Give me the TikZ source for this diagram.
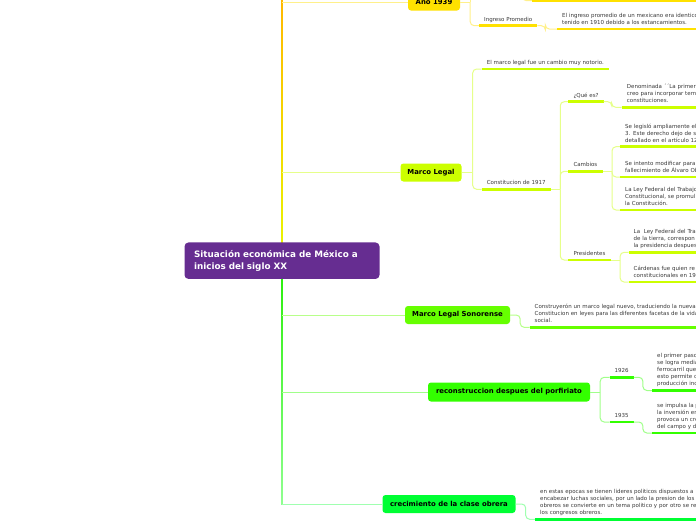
\documentclass[tikz,border=0pt]{standalone}
\usepackage{fontspec}
\setmainfont{DejaVu Sans}
\definecolor{txt}{HTML}{3A3A3A}
\definecolor{rootc}{HTML}{662D91}
\definecolor{cya}{HTML}{FFE100}
\definecolor{lya}{HTML}{FFF08A}
\definecolor{cml}{HTML}{CCFF00}
\definecolor{lml}{HTML}{E6FF8A}
\definecolor{cmls}{HTML}{66FF00}
\definecolor{lmls}{HTML}{B8FF8A}
\definecolor{crec}{HTML}{33FF00}
\definecolor{lrec}{HTML}{A0FF8A}
\definecolor{ccre}{HTML}{00FF33}
\definecolor{lcre}{HTML}{A0FFB0}
\definecolor{trA}{HTML}{FFB800}
\definecolor{trB}{HTML}{E8F500}
\definecolor{trC}{HTML}{22EE00}
\definecolor{trD}{HTML}{90FF90}
\begin{document}
\begin{tikzpicture}[x=1pt,y=-1pt,
  leaf/.style={anchor=south west, inner xsep=5pt, inner ysep=2.4pt, align=left,
    font=\fontsize{5.5}{7}\selectfont, text=txt, execute at end node=\strut},
  topic/.style={rounded corners=3pt, font=\fontsize{6.9}{8}\selectfont\bfseries,
    text=black, minimum height=18pt, inner sep=0pt},
  conn/.style={line width=1pt, rounded corners=4pt},
  ul/.style={line width=2.6pt}
]
\useasboundingbox (0,0) rectangle (696,520);
\clip (0,0) rectangle (696,520);
\fill[white] (0,0) rectangle (696,520);

% trunk
\shade[top color=trA, bottom color=trB] (281.1,-2) rectangle (282.9,255);
\shade[top color=trC, bottom color=trD] (281.1,255) rectangle (282.9,504.5);
\coordinate (t1) at (282,2);
\coordinate (t2) at (282,172.5);
\coordinate (t3) at (282,315);
\coordinate (t4) at (282,392);
\coordinate (t5) at (282,504);

% main topics
\node[topic, fill=cya, minimum width=52pt, minimum height=17pt] (a1939) at (434,2) {Año 1939};
\node[topic, fill=cml, minimum width=61pt] (ml) at (431,172.5) {Marco Legal};
\node[topic, fill=cmls, minimum width=105pt] (mls) at (457.5,315) {Marco Legal Sonorense};
\node[topic, fill=crec, minimum width=162pt, minimum height=19pt] (rec) at (509,392) {reconstruccion despues del porfiriato};
\node[topic, fill=ccre, minimum width=133pt] (cre) at (449,504) {crecimiento de la clase obrera};

\draw[conn, lya] (t1) -- (a1939.west);
\draw[conn, lml] (t2) -- (ml.west);
\draw[conn, lmls] (t3) -- (mls.west);
\draw[conn, lrec] (t4) -- (rec.west);
\draw[conn, lcre] (t5) -- (cre.west);

% root
\node[rounded corners=4pt, fill=rootc, text=white, minimum width=195pt, minimum height=36.5pt,
  text width=176pt, inner xsep=9.5pt, inner ysep=0pt, align=left,
  font=\fontsize{8.8}{11.6}\selectfont\bfseries] (root) at (282,260.7)
  {Situación económica de México a\\inicios del siglo XX};

% ---- Año 1939
\path (a1939.east) ++(10,0) coordinate (j1939);
\draw[conn, lya] (a1939.east) -- (j1939);
\draw[conn, lya] (j1939) -- ++(0,-12);
\node[leaf] (ip) at (479,25.7) {Ingreso Promedio};
\draw[conn, lya] (j1939) |- (ip.south west);
\draw[ul, cya] (ip.south west) -- (ip.south east);
\node[leaf, text width=250pt] (ipl) at (557,29) {El ingreso promedio de un mexicano era identico\\tenido en 1910 debido a los estancamientos.};
\draw[conn, lya] (ip.south east) -- ++(8,0) |- (ipl.south west);
\draw[ul, cya] (ipl.south west) -- (ipl.south east);
\coordinate (topsrc) at (514,-9);
\coordinate (topl) at (532,0.5);
\draw[conn, lya] (topsrc) -- ++(8,0) |- (topl);
\draw[ul, cya] (topl) -- ++(200,0);

% ---- Marco Legal
\path (ml.east) ++(11,0) coordinate (jml);
\draw[conn, lml] (ml.east) -- (jml);
\node[leaf] (mlnote) at (481.7,69) {El marco legal fue un cambio muy notorio.};
\node[leaf] (c1917) at (481.7,189.3) {Constitucion de 1917};
\draw[conn, lml] (jml) |- (mlnote.south west);
\draw[conn, lml] (jml) |- (c1917.south west);
\draw[ul, cml] (mlnote.south west) -- (mlnote.south east);
\draw[ul, cml] (c1917.south west) -- (c1917.south east);

\path (c1917.south east) ++(9.5,0) coordinate (jc);
\draw[conn, lml] (c1917.south east) -- (jc);
\node[leaf] (que) at (568.3,101.7) {¿Qué es?};
\node[leaf] (camb) at (568.3,171.3) {Cambios};
\node[leaf] (pres) at (568.3,260) {Presidentes};
\draw[conn, lml] (jc) |- (que.south west);
\draw[conn, lml] (jc) |- (camb.south west);
\draw[conn, lml] (jc) |- (pres.south west);
\draw[ul, cml] (que.south west) -- (que.south east);
\draw[ul, cml] (camb.south west) -- (camb.south east);
\draw[ul, cml] (pres.south west) -- (pres.south east);

\node[leaf, text width=250pt] (quel) at (621.7,107.3) {Denominada ´´La primer\\creo para incorporar tem\\constituciones.};
\draw[conn, lml] (que.south east) -- ++(8,0) |- (quel.south west);
\draw[ul, cml] (quel.south west) -- (quel.south east);

\path (camb.south east) ++(9.5,0) coordinate (jcamb);
\draw[conn, lml] (camb.south east) -- (jcamb);
\node[leaf, text width=250pt] (cl1) at (620,146.7) {Se legisló ampliamente el\\3. Este derecho dejo de s\\detallado en el artículo 12};
\node[leaf, text width=250pt] (cl2) at (620,177) {Se intento modificar para\\fallecimiento de Álvaro Ob};
\node[leaf, text width=250pt] (cl3) at (620,210) {La Ley Federal del Trabajo\\Constitucional, se promul\\la Constitución.};
\foreach \n in {cl1,cl2,cl3}{
  \draw[conn, lml] (jcamb) |- (\n.south west);
  \draw[ul, cml] (\n.south west) -- (\n.south east);
}

\path (pres.south east) ++(9.5,0) coordinate (jpres);
\draw[conn, lml] (pres.south east) -- (jpres);
\node[leaf, text width=250pt] (pl1) at (628.5,252.3) {La~ Ley Federal del Tra\\de la tierra, correspon\\la presidencia despues};
\node[leaf, text width=250pt] (pl2) at (628.5,282) {Cárdenas fue quien re\\constitucionales en 19};
\foreach \n in {pl1,pl2}{
  \draw[conn, lml] (jpres) |- (\n.south west);
  \draw[ul, cml] (\n.south west) -- (\n.south east);
}

% ---- Marco Legal Sonorense
\node[leaf, text width=250pt] (mlsl) at (529.5,327.3) {Construyerón un marco legal nuevo, traduciendo la nueva\\Constitucion en leyes para las diferentes facetas de la vida\\social.};
\draw[conn, lmls] (mls.east) -- ++(10,0) |- (mlsl.south west);
\draw[ul, cmls] (mlsl.south west) -- (mlsl.south east);

% ---- reconstruccion
\path (rec.east) ++(10,0) coordinate (jrec);
\draw[conn, lrec] (rec.east) -- (jrec);
\node[leaf] (y26) at (609.5,377.3) {1926};
\node[leaf] (y35) at (609.5,422) {1935};
\draw[conn, lrec] (jrec) |- (y26.south west);
\draw[conn, lrec] (jrec) |- (y35.south west);
\draw[ul, crec] (y26.south west) -- (y26.south east);
\draw[ul, crec] (y35.south west) -- (y35.south east);
\node[leaf, text width=250pt] (l26) at (652,390.5) {el primer paso\\se logra media\\ferrocarril que\\esto permite c\\producción ind};
\node[leaf, text width=250pt] (l35) at (652,433) {se impulsa la p\\la inversión en\\provoca un cre\\del campo y d};
\draw[conn, lrec] (y26.south east) -- ++(9,0) |- (l26.south west);
\draw[conn, lrec] (y35.south east) -- ++(9,0) |- (l35.south west);
\draw[ul, crec] (l26.south west) -- (l26.south east);
\draw[ul, crec] (l35.south west) -- (l35.south east);

% ---- crecimiento
\node[leaf, text width=250pt] (crel) at (535,519.3) {en estas epocas se tienen lideres politicos dispuestos a\\encabezar luchas sociales, por un lado la presion de los\\obreros se convierte en un tema politico y por otro se re\\los congresos obreros.};
\draw[conn, lcre] (cre.east) -- ++(10,0) |- (crel.south west);
\draw[ul, ccre] (crel.south west) -- (crel.south east);
\end{tikzpicture}
\end{document}
